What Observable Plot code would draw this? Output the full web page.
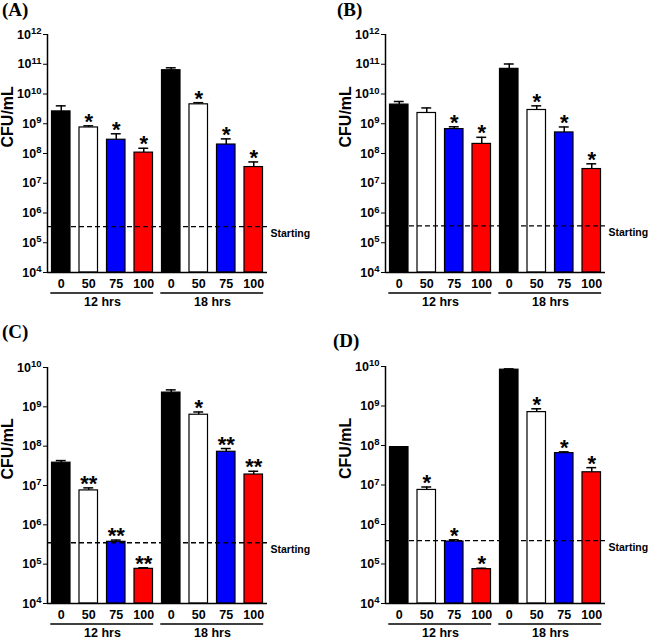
<!DOCTYPE html>
<html><head><meta charset="utf-8">
<script src="https://cdn.jsdelivr.net/npm/d3@7"></script>
<script src="https://cdn.jsdelivr.net/npm/@observablehq/plot@0.6"></script>
<style>
body{margin:0;background:#fff;}
#grid{position:relative;width:650px;height:640px;overflow:hidden;}
.panel{position:absolute;width:325px;height:320px;}
.panel svg{overflow:visible;}
.letter{position:absolute;font-family:"Liberation Serif","Times New Roman",serif;font-weight:bold;font-size:19px;line-height:19px;color:#000;}
</style></head><body><div id="grid"></div>
<script>
const times = ["12 hrs", "18 hrs"];
const doses = ["0", "50", "75", "100"];
const doseColors = ["#000000", "#ffffff", "#0000ff", "#ff0000"];

// Panel A
const valuesA = [2.6e9, 7.5e8, 2.9e8, 1.07e8, 6.3e10, 4.5e9, 2.0e8, 3.5e7];
const errTopA = [4.0e9, 8.5e8, 4.6e8, 1.5e8, 7.6e10, 5.1e9, 3.1e8, 5.2e7];
const sigA = ["", "*", "*", "*", "", "*", "*", "*"];
const startA = 3.5e5;
// Panel B
const valuesB = [4.4e9, 2.3e9, 6.6e8, 2.1e8, 7.0e10, 2.9e9, 5.1e8, 3.0e7];
const errTopB = [5.6e9, 3.4e9, 7.9e8, 3.5e8, 1.02e11, 4.0e9, 7.8e8, 4.5e7];
const sigB = ["", "", "*", "*", "", "*", "*", "*"];
const startB = 3.7e5;
// Panel C
const valuesC = [3.8e7, 7.5e6, 3.7e5, 7.6e4, 2.3e9, 6.3e8, 7.2e7, 1.9e7];
const errTopC = [4.3e7, 8.7e6, 4.1e5, 8.1e4, 2.7e9, 7.4e8, 8.7e7, 2.3e7];
const sigC = ["", "**", "**", "**", "", "*", "**", "**"];
const startC = 3.5e5;
// Panel D
const valuesD = [9.1e7, 7.5e6, 3.7e5, 7.4e4, 8.3e9, 7.0e8, 6.4e7, 2.1e7];
const errTopD = [9.3e7, 8.9e6, 4.1e5, 7.8e4, 8.7e9, 8.5e8, 6.9e7, 2.75e7];
const sigD = ["", "*", "*", "*", "", "*", "*", "*"];
const startD = 3.9e5;

const yMinExp = 4;

function makePanel(cfg) {
  const {values, errTop, sig, start, yMaxExp, marginLeft, marginRight, marginTop, marginBottom} = cfg;
  const data = values.map((v, i) => ({i, time: times[Math.floor(i / 4)], dose: doses[i % 4], v, e: errTop[i], s: sig[i]}));
  const yTicks = d3.range(yMinExp, yMaxExp + 1).map(k => Math.pow(10, k));
  const yMin = Math.pow(10, yMinExp);
  const chart = Plot.plot({
    width: 325, height: 320, marginLeft, marginRight, marginTop, marginBottom,
    style: {fontFamily: "'Liberation Sans', Arial, sans-serif", fontWeight: "bold", fontSize: "12.5px", color: "#000", background: "transparent", overflow: "visible"},
    x: {domain: [0, times.length * doses.length], axis: null},
    y: {type: "log", domain: [yMin, Math.pow(10, yMaxExp)], ticks: yTicks, tickFormat: d => `10^${Math.round(Math.log10(d))}`, tickSize: 4, tickPadding: 2, label: null},
    color: {domain: doses, range: doseColors},
    marks: [
      Plot.ruleX(data, {x: d => d.i + 0.5, y1: "v", y2: "e", stroke: "#000", strokeWidth: 1.5}),
      Plot.ruleY(data, {y: "e", x1: d => d.i + 0.32, x2: d => d.i + 0.68, stroke: "#000", strokeWidth: 1.5}),
      Plot.rectY(data, {x1: d => d.i, x2: d => d.i + 1, y1: yMin, y2: "v", fill: "dose", stroke: "#000", strokeWidth: 1.2, insetLeft: 4.5, insetRight: 4.5}),
      Plot.text(data, {x: d => d.i + 0.5, y: "e", text: "s", lineAnchor: "bottom", dy: 3, fontSize: 22}),
      Plot.ruleY([start], {stroke: "#000", strokeWidth: 1.3, strokeDasharray: "5,3"}),
      Plot.text([start], {y: d => d, text: () => "Starting", frameAnchor: "right", textAnchor: "start", dx: 3, dy: 7, fontSize: 10.5}),
      Plot.ruleY([yMin], {stroke: "#000", strokeWidth: 1.5}),
      Plot.ruleX([0], {stroke: "#000", strokeWidth: 1.5}),
      Plot.text(data, {x: d => d.i + 0.5, y: yMin, text: "dose", lineAnchor: "middle", dy: 11.5, fontSize: 12.5}),
      Plot.ruleY(times, {y: yMin, x1: (t, g) => g * doses.length + 0.12, x2: (t, g) => (g + 1) * doses.length - 0.14, dy: 20.5, stroke: "#000", strokeWidth: 1.5}),
      Plot.text(times, {x: (t, g) => g * doses.length + doses.length / 2, y: yMin, text: d => d, lineAnchor: "middle", dy: 29.5, fontSize: 12.5}),
      Plot.text(["CFU/mL"], {frameAnchor: "left", rotate: -90, dx: -39.5, dy: -6, fontSize: 16})
    ]
  });
  // superscript exponents on y tick labels
  chart.querySelectorAll("text").forEach(t => {
    const m = /^10\^(\d+)$/.exec(t.textContent);
    if (m) {
      t.textContent = "10";
      const ts = document.createElementNS("http://www.w3.org/2000/svg", "tspan");
      ts.setAttribute("dy", "-0.45em");
      ts.setAttribute("font-size", "0.76em");
      ts.textContent = m[1];
      t.appendChild(ts);
    }
  });
  return chart;
}

const grid = document.getElementById("grid");
const panels = [
  {letter: "(A)", left: 0, top: 0, lx: 2, ly: 0, values: valuesA, errTop: errTopA, sig: sigA, start: startA, yMaxExp: 12, marginLeft: 47, marginRight: 58, marginTop: 34, marginBottom: 48},
  {letter: "(B)", left: 325, top: 0, lx: 12, ly: 0, values: valuesB, errTop: errTopB, sig: sigB, start: startB, yMaxExp: 12, marginLeft: 60, marginRight: 45, marginTop: 34, marginBottom: 48},
  {letter: "(C)", left: 0, top: 320, lx: 2, ly: 2, values: valuesC, errTop: errTopC, sig: sigC, start: startC, yMaxExp: 10, marginLeft: 47, marginRight: 58, marginTop: 47, marginBottom: 37},
  {letter: "(D)", left: 325, top: 320, lx: 8, ly: 11, values: valuesD, errTop: errTopD, sig: sigD, start: startD, yMaxExp: 10, marginLeft: 60, marginRight: 45, marginTop: 46, marginBottom: 37}
];
panels.forEach(p => {
  const div = document.createElement("div");
  div.className = "panel";
  div.style.left = p.left + "px";
  div.style.top = p.top + "px";
  div.appendChild(makePanel(p));
  const lab = document.createElement("div");
  lab.className = "letter";
  lab.style.left = p.lx + "px";
  lab.style.top = p.ly + "px";
  lab.textContent = p.letter;
  div.appendChild(lab);
  grid.appendChild(div);
});
</script>
</body></html>
